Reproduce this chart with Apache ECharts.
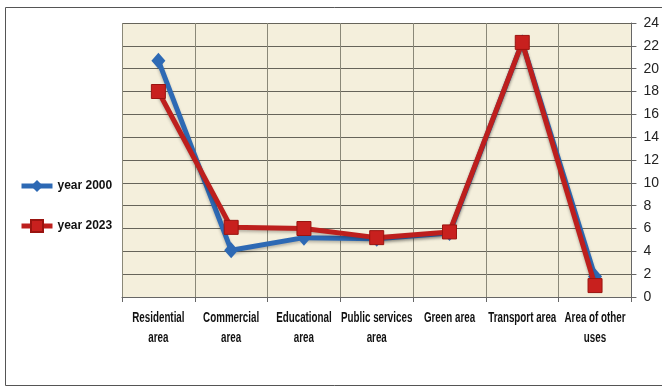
<!DOCTYPE html>
<html>
<head>
<meta charset="utf-8">
<script src="https://cdn.jsdelivr.net/npm/echarts@6/dist/echarts.min.js"></script>
<style>
  html, body { margin: 0; padding: 0; background: #fff; }
  #chart { width: 662px; height: 388px; }
</style>
</head>
<body>
<div id="chart"></div>
<script>
// Land-use categories (share, %)
const categories = [
  'Residential\narea', 'Commercial\narea', 'Educational\narea',
  'Public services\narea', 'Green area', 'Transport area', 'Area of other\nuses'
];
const year2000 = [20.7, 4.1, 5.2, 5.1, 5.6, 22.3, 1.8];
const year2023 = [18.0, 6.1, 6.0, 5.2, 5.7, 22.3, 1.0];
const yTicks = { min: 0, max: 24, step: 2 };

const font = '"Liberation Sans", Arial, sans-serif';

const chart = echarts.init(document.getElementById('chart'));
chart.setOption({
  animation: false,
  backgroundColor: '#fff',
  legend: {
    orient: 'vertical',
    left: 19,
    top: 180,
    padding: 0,
    itemGap: 27,
    itemWidth: 31,
    itemHeight: 15,
    lineStyle: { width: 5 },
    textStyle: { fontFamily: font, fontWeight: 'bold', fontSize: 12, color: '#111' },
    data: ['year 2000', 'year 2023']
  },
  grid: { left: 122, right: 29, top: 23, bottom: 91, show: true, backgroundColor: '#f4efdc', borderWidth: 0 },
  xAxis: {
    type: 'category',
    data: categories,
    boundaryGap: true,
    axisLine: { lineStyle: { color: '#666' } },
    axisTick: { show: true, interval: 0, length: 5, lineStyle: { color: '#666' } },
    splitLine: { show: true, interval: 0, lineStyle: { color: '#8a8878', width: 1 } },
    axisLabel: { show: false, interval: 0 }
  },
  yAxis: {
    type: 'value',
    position: 'right',
    min: yTicks.min, max: yTicks.max, interval: yTicks.step,
    axisLine: { show: true, lineStyle: { color: '#666' } },
    axisTick: { show: true, length: 5, lineStyle: { color: '#666' } },
    splitLine: { show: true, lineStyle: { color: '#66645a', width: 1 } },
    axisLabel: { margin: 12, fontFamily: font, fontSize: 14, color: '#222' }
  },
  series: [
    {
      name: 'year 2000',
      type: 'line',
      data: year2000,
      symbol: 'diamond',
      symbolSize: [14, 16],
      lineStyle: { color: '#2d69b4', width: 5, shadowColor: 'rgba(0,0,0,0.25)', shadowBlur: 3, shadowOffsetY: 2 },
      itemStyle: { color: '#2d69b4' },
      z: 2
    },
    {
      name: 'year 2023',
      type: 'line',
      data: year2023,
      symbol: 'rect',
      symbolSize: 14,
      lineStyle: { color: '#bd1f1d', width: 5, shadowColor: 'rgba(0,0,0,0.25)', shadowBlur: 3, shadowOffsetY: 2 },
      itemStyle: { color: '#c8201e', borderColor: '#9a1410', borderWidth: 1 },
      z: 3
    }
  ]
});

// Category labels in a condensed bold face, centred under each column
const baseY = chart.convertToPixel({ yAxisIndex: 0 }, yTicks.min);
const labelGraphics = categories.map((name, i) => ({
  type: 'text',
  x: chart.convertToPixel({ xAxisIndex: 0 }, i),
  y: baseY + 11,
  scaleX: 0.7,
  style: {
    text: name,
    font: 'bold 14px ' + font,
    lineHeight: 20,
    fill: '#111',
    align: 'center',
    verticalAlign: 'top'
  }
}));

chart.setOption({
  graphic: [{
    type: 'rect',
    shape: { x: 5.5, y: 7.5, width: 680, height: 378 },
    style: { fill: 'none', stroke: '#555', lineWidth: 1 },
    z: -1
  }].concat(labelGraphics)
});
</script>
</body>
</html>
